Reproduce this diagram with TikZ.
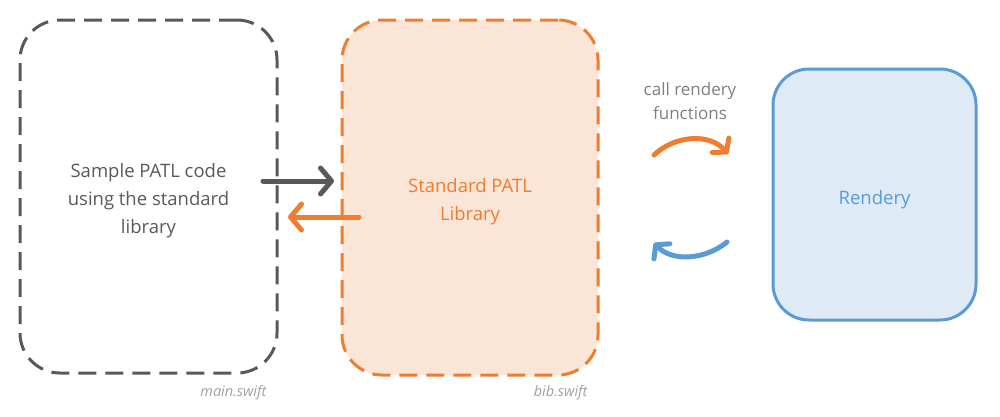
\documentclass[tikz,border=0pt]{standalone}
\usepackage{fontspec}
\setmainfont{Open Sans}
\usetikzlibrary{arrows.meta}
\definecolor{dgray}{HTML}{595959}
\definecolor{lgray}{HTML}{7F7F7F}
\definecolor{xgray}{HTML}{A0A0A0}
\definecolor{orng}{HTML}{ED7D31}
\definecolor{orngfill}{HTML}{FBE5D6}
\definecolor{blu}{HTML}{5B9BD5}
\definecolor{blufill}{HTML}{DEEBF7}
\tikzset{
  box/.style={rectangle, rounded corners=40pt, line width=3pt, inner sep=0pt},
  dashbox/.style={box, dash pattern=on 18pt off 9pt},
  boxtext/.style={font=\fontsize{18.5}{28}\selectfont, align=center, inner sep=0pt},
  arr/.style={line width=5pt, line cap=round, -{Straight Barb[length=11pt,width=26pt,line cap=round,line join=round]}},
  curv/.style={line width=5pt, line cap=round, -{Straight Barb[length=9pt,width=22pt,line cap=round,line join=round]}},
  small/.style={font=\fontsize{17}{23.5}\selectfont, text=lgray, align=center},
  fname/.style={font=\fontsize{14.5}{16}\selectfont\itshape, text=xgray, anchor=east}
}
\begin{document}
\begin{tikzpicture}[x=1pt,y=-1pt]
\useasboundingbox (0,0) rectangle (1000,416);
\node[dashbox, draw=dgray, minimum width=257pt, minimum height=353pt] (main) at (148.5,196.5) {};
\node[dashbox, draw=orng, fill=orngfill, minimum width=256pt, minimum height=355pt] (lib) at (470,197.5) {};
\node[box, rounded corners=36pt, draw=blu, fill=blufill, minimum width=203pt, minimum height=251pt] (rend) at (874.5,194.5) {};
\node[boxtext, text=dgray] (maintext) at ([yshift=-4pt]main.center) {Sample PATL code\\using the standard\\library};
\node[boxtext, text=orng] (libtext) at ([yshift=-4pt]lib.center) {Standard PATL\\Library};
\node[boxtext, text=blu] (rendtext) at ([yshift=-5pt]rend.center) {Rendery};
\coordinate (g1) at (263,181);
\coordinate (g2) at (334,181);
\coordinate (o1) at (359,217);
\coordinate (o2) at (288,217);
\draw[arr, dgray] (g1) -- (g2);
\draw[arr, orng] (o1) -- (o2);
\coordinate (c1) at (654,155);
\coordinate (c2) at (728,154);
\coordinate (c3) at (727,242);
\coordinate (c4) at (654,243);
\draw[curv, orng] (c1) .. controls (675,135) and (710,133) .. (c2);
\draw[curv, blu] (c3) .. controls (705,260) and (672,262) .. (c4);
\node[small] (lbl) at (690,101) {call rendery\\functions};
\node[fname] (mf) at (270,393) {main.swift};
\node[fname] (bf) at (591,393) {bib.swift};
\end{tikzpicture}
\end{document}
